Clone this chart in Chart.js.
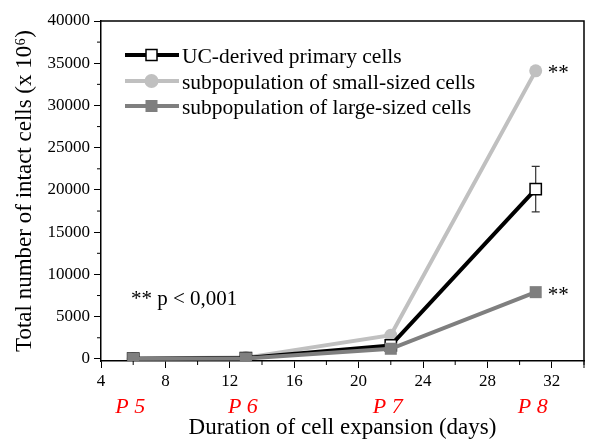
<!DOCTYPE html>
<html>
<head>
<meta charset="utf-8">
<script src="https://cdn.jsdelivr.net/npm/chart.js@4.4.0/dist/chart.umd.min.js"></script>
<style>
  body { margin: 0; background: #fff; }
</style>
</head>
<body>
<canvas id="cells-chart" width="600" height="446"></canvas>
<script>
// data
const days = [6, 13, 22, 31];
const passages = ["P 5", "P 6", "P 7", "P 8"];
const ucCells = [30, 100, 1600, 20100];
const ucErr = [0, 0, 150, 2700];
const smallCells = [40, 150, 2800, 34100];
const smallErr = [0, 0, 0, 500];
const largeCells = [30, 60, 1200, 7900];
const xTicks = [4, 8, 12, 16, 20, 24, 28, 32];
const yTicks = [0, 5000, 10000, 15000, 20000, 25000, 30000, 35000, 40000];

const serif = "'Liberation Serif', 'Times New Roman', serif";
const LIGHT = "#c0c0c0";
const DARK = "#7f7f7f";

function pts(vals) {
  return days.map((d, i) => ({ x: d, y: vals[i] }));
}

// draws error bars, the frame, minor ticks, legend and text labels
const extras = {
  id: "extras",
  beforeDatasetsDraw(chart) {
    const ctx = chart.ctx;
    const xs = chart.scales.x, ys = chart.scales.y;
    const bars = [[ucCells, ucErr, "#333"], [smallCells, smallErr, "#999"]];
    ctx.save();
    ctx.lineWidth = 1.2;
    bars.forEach(([vals, errs, col]) => {
      ctx.strokeStyle = col;
      days.forEach((d, i) => {
        if (!errs[i]) return;
        const px = xs.getPixelForValue(d);
        const top = ys.getPixelForValue(vals[i] + errs[i]);
        const bot = ys.getPixelForValue(vals[i] - errs[i]);
        ctx.beginPath();
        ctx.moveTo(px, top); ctx.lineTo(px, bot);
        ctx.moveTo(px - 4, top); ctx.lineTo(px + 4, top);
        ctx.moveTo(px - 4, bot); ctx.lineTo(px + 4, bot);
        ctx.stroke();
      });
    });
    ctx.restore();
  },
  afterDraw(chart) {
    const ctx = chart.ctx;
    const a = chart.chartArea;
    const xs = chart.scales.x, ys = chart.scales.y;
    ctx.save();
    // top and right frame
    ctx.strokeStyle = "#000";
    ctx.lineWidth = 1.5;
    ctx.beginPath();
    ctx.moveTo(a.left, a.top); ctx.lineTo(a.right, a.top); ctx.lineTo(a.right, a.bottom);
    ctx.stroke();
    // minor ticks
    ctx.lineWidth = 1;
    ctx.beginPath();
    for (let v = 6; v <= 34; v += 4) {
      const px = xs.getPixelForValue(v);
      ctx.moveTo(px, a.bottom); ctx.lineTo(px, a.bottom + 4);
    }
    ctx.moveTo(a.right, a.bottom); ctx.lineTo(a.right, a.bottom + 7);
    for (let v = 2500; v < 40000; v += 5000) {
      const py = ys.getPixelForValue(v);
      ctx.moveTo(a.left, py); ctx.lineTo(a.left - 4, py);
    }
    ctx.stroke();

    // passage labels
    ctx.fillStyle = "#ff0000";
    ctx.font = "italic 22px " + serif;
    ctx.textAlign = "center";
    ctx.textBaseline = "middle";
    days.forEach((d, i) => {
      ctx.fillText(passages[i], xs.getPixelForValue(d) - 3, 407);
    });

    // significance marks
    ctx.fillStyle = "#000";
    ctx.font = "21px " + serif;
    ctx.textAlign = "left";
    ctx.fillText("**", xs.getPixelForValue(days[3]) + 12, ys.getPixelForValue(smallCells[3]) + 3);
    ctx.fillText("**", xs.getPixelForValue(days[3]) + 12, ys.getPixelForValue(largeCells[3]) + 3);
    ctx.fillText("** p < 0,001", 131, 299);

    // legend
    const items = [
      { label: "UC-derived primary cells", color: "#000", shape: "open" },
      { label: "subpopulation of small-sized cells", color: LIGHT, shape: "circle" },
      { label: "subpopulation of large-sized cells", color: DARK, shape: "square" },
    ];
    const rowY = [55, 81, 106];
    items.forEach((it, i) => {
      const y = rowY[i];
      ctx.strokeStyle = it.color;
      ctx.lineWidth = 4;
      ctx.beginPath();
      ctx.moveTo(125, y); ctx.lineTo(179, y);
      ctx.stroke();
      if (it.shape === "open") {
        ctx.fillStyle = "#fff";
        ctx.fillRect(146, y - 5.5, 11, 11);
        ctx.lineWidth = 1.5;
        ctx.strokeRect(146, y - 5.5, 11, 11);
      } else if (it.shape === "circle") {
        ctx.fillStyle = it.color;
        ctx.beginPath();
        ctx.arc(151.5, y, 7, 0, Math.PI * 2);
        ctx.fill();
      } else {
        ctx.fillStyle = it.color;
        ctx.fillRect(145.5, y - 6, 12, 12);
      }
      ctx.fillStyle = "#000";
      ctx.font = "21.5px " + serif;
      ctx.fillText(it.label, 182, y + 2);
    });
    ctx.restore();
  }
};

const ctx = document.getElementById("cells-chart").getContext("2d");

new Chart(ctx, {
  type: "line",
  data: {
    datasets: [
      {
        label: "UC-derived primary cells",
        data: pts(ucCells),
        borderColor: "#000",
        borderWidth: 4,
        pointStyle: "rect",
        pointRadius: 8,
        pointBackgroundColor: "#fff",
        pointBorderColor: "#000",
        pointBorderWidth: 1.5,
        order: 1,
      },
      {
        label: "subpopulation of small-sized cells",
        data: pts(smallCells),
        borderColor: LIGHT,
        borderWidth: 4,
        pointStyle: "circle",
        pointRadius: 6.5,
        pointBackgroundColor: LIGHT,
        pointBorderColor: LIGHT,
        pointBorderWidth: 0,
        order: 2,
      },
      {
        label: "subpopulation of large-sized cells",
        data: pts(largeCells),
        borderColor: DARK,
        borderWidth: 4,
        pointStyle: "rect",
        pointRadius: 8.5,
        pointBackgroundColor: DARK,
        pointBorderColor: DARK,
        pointBorderWidth: 0,
        order: 0,
      },
    ],
  },
  options: {
    responsive: false,
    animation: false,
    layout: { padding: { top: 21, right: 16, left: 0, bottom: 0 } },
    plugins: {
      legend: { display: false },
      tooltip: { enabled: false },
    },
    scales: {
      x: {
        type: "linear",
        min: 4,
        max: 34,
        afterFit(scale) { scale.height = 85; },
        afterBuildTicks(scale) { scale.ticks = xTicks.map(v => ({ value: v })); },
        grid: { drawOnChartArea: false, tickLength: 7, color: "#000", tickWidth: 1 },
        border: { color: "#000", width: 1.5 },
        ticks: {
          color: "#000", padding: 3, maxRotation: 0,
          font: { family: serif, size: 17 },
          callback: (v) => String(v),
        },
        title: {
          display: true,
          text: "Duration of cell expansion (days)",
          color: "#000",
          font: { family: serif, size: 23 },
          padding: { top: 0, bottom: 4 },
        },
      },
      y: {
        min: -250,
        max: 40000,
        afterFit(scale) { scale.width = 101; },
        afterBuildTicks(scale) { scale.ticks = yTicks.map(v => ({ value: v })); },
        grid: { drawOnChartArea: false, tickLength: 7, color: "#000", tickWidth: 1 },
        border: { color: "#000", width: 1.5 },
        ticks: {
          color: "#000", padding: 4,
          font: { family: serif, size: 17 },
          callback: (v) => String(v),
        },
        title: {
          display: true,
          text: "Total number of intact cells (x 10\u2076)",
          color: "#000",
          font: { family: serif, size: 23 },
          padding: { top: 11, bottom: 0 },
        },
      },
    },
  },
  plugins: [extras],
});
</script>
</body>
</html>
